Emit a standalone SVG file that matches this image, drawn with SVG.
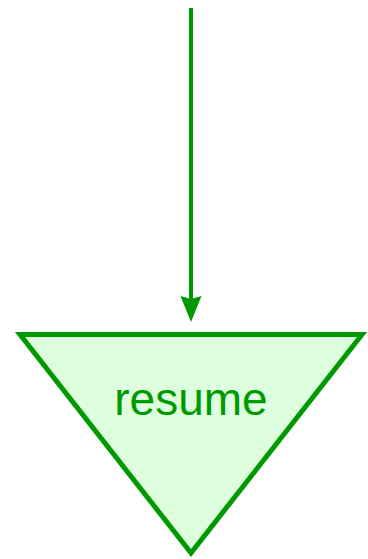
<svg xmlns="http://www.w3.org/2000/svg" width="368" height="559" viewBox="0 0 368 559">
<style>
.edge{stroke:#009900;stroke-width:4;fill:none}
.node{stroke:#009900;stroke-width:5;fill:#ddffdd;stroke-linejoin:miter}
.lbl{font-family:"Liberation Sans",Arial,sans-serif;font-size:46px;fill:#009900;text-anchor:middle}
</style>
<g id="connectors">
<line class="edge" x1="191" y1="8" x2="191" y2="300"/>
<path d="M180.5,296 L191,322 L201.5,296 L191,299 Z" fill="#009900"/>
</g>
<g id="resume">
<polygon class="node" points="20,334.5 362,334.5 191,553"/>
<text class="lbl" x="191" y="415">resume</text>
</g>
</svg>
